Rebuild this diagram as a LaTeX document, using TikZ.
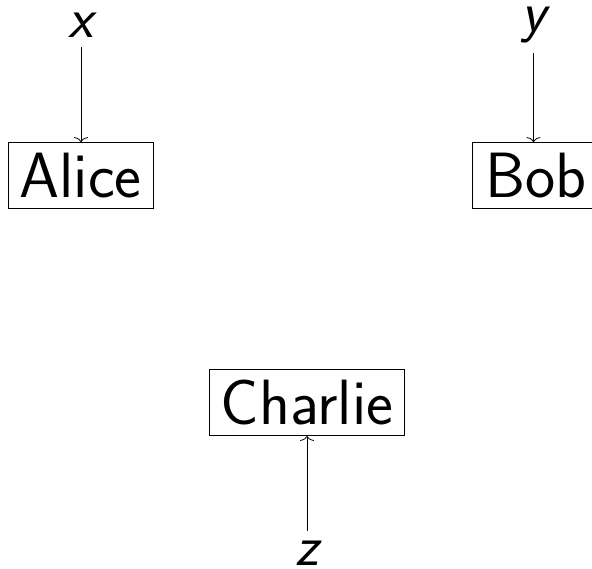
\documentclass[tikz,border=0pt]{standalone}
\usepackage{fontspec}
\usetikzlibrary{arrows.meta}
\begin{document}
\begin{tikzpicture}[x=1pt,y=1pt,
  party/.style={draw, line width=0.8pt, inner xsep=11.5pt, inner ysep=10.5pt,
    font=\fontsize{64}{76}\selectfont\sffamily},
  varlabel/.style={inner sep=10pt, font=\fontsize{57}{68}\selectfont\sffamily\slshape},
  feed/.style={-{To[length=5pt,width=14pt]}, line width=0.8pt}]
  \clip (0,0) rectangle (592,-568);
  \useasboundingbox (0,0) rectangle (592,-568);
  % parties
  \node[party] (alice) at (80.5,-175.5) {Alice};
  \node[party, minimum width=128pt] (bob) at (536,-175.5) {Bob};
  \node[party] (charlie) at (307,-402.5) {Charlie};
  % inputs
  \node[varlabel] (xl) at (81,-25) {x};
  \node[varlabel] (yl) at (533.5,-25) {y};
  \node[varlabel] (zl) at (307,-553) {z};
  % arrows
  \draw[feed] (xl) -- (xl |- alice.north);
  \draw[feed] (yl) -- (yl |- bob.north);
  \draw[feed] (zl) -- (charlie);
\end{tikzpicture}
\end{document}
